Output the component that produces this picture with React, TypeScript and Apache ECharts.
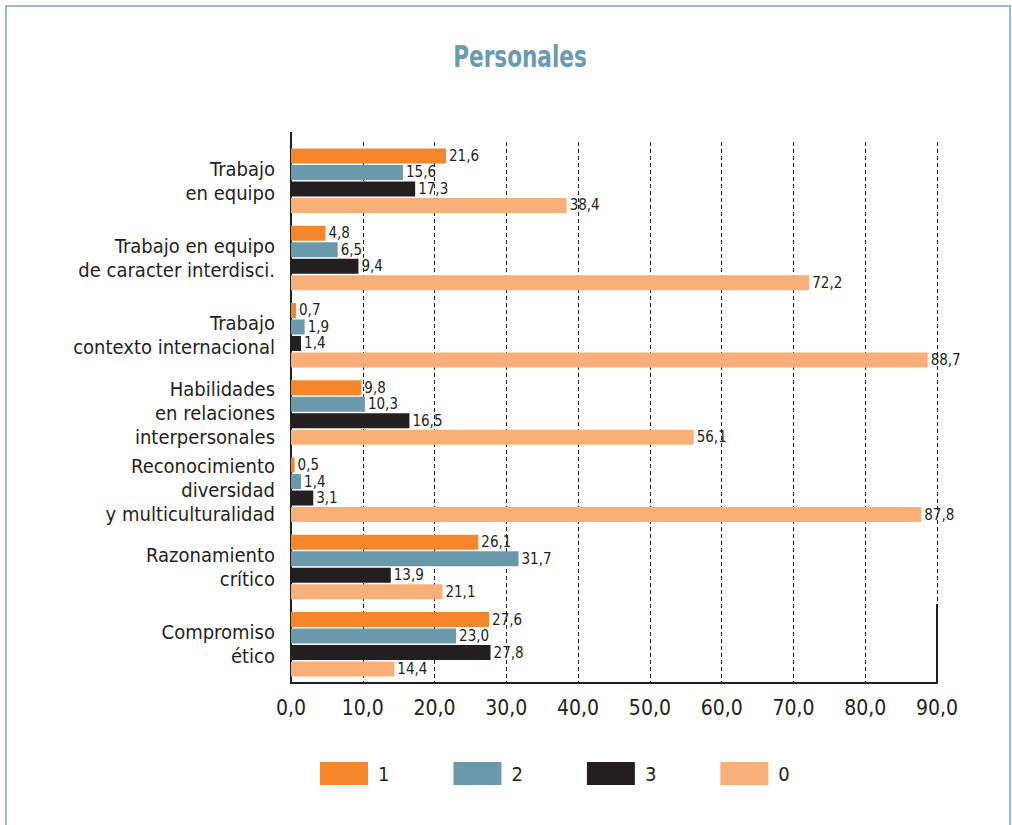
import React, { useEffect, useRef } from "react";
import * as echarts from "echarts";

const categories = [
  "Trabajo\nen equipo",
  "Trabajo en equipo\nde caracter interdisci.",
  "Trabajo\ncontexto internacional",
  "Habilidades\nen relaciones\ninterpersonales",
  "Reconocimiento\ndiversidad\ny multiculturalidad",
  "Razonamiento\ncrítico",
  "Compromiso\nético",
];
const seriesNames = ["1", "2", "3", "0"];
const values1 = [21.6, 4.8, 0.7, 9.8, 0.5, 26.1, 27.6];
const values2 = [15.6, 6.5, 1.9, 10.3, 1.4, 31.7, 23.0];
const values3 = [17.3, 9.4, 1.4, 16.5, 3.1, 13.9, 27.8];
const values0 = [38.4, 72.2, 88.7, 56.1, 87.8, 21.1, 14.4];
const colors = ["#F5862B", "#6A99AC", "#231F20", "#F9AF78"];

const FONT = "'DejaVu Sans Condensed', 'Liberation Sans Narrow', sans-serif";
const fmt = (v: number) => v.toFixed(1).replace(".", ",");

export default function App() {
  const ref = useRef<HTMLDivElement>(null);
  useEffect(() => {
    if (!ref.current) return;
    const chart = echarts.init(ref.current, null, { renderer: "svg" });
    const data = [values1, values2, values3, values0];
    chart.setOption({
      animation: false,
      backgroundColor: "#ffffff",
      textStyle: { fontFamily: FONT },
      legend: {
        data: seriesNames,
        left: 320,
        top: 762,
        padding: 0,
        itemWidth: 48,
        itemHeight: 23,
        itemGap: 64,
        icon: "rect",
        textStyle: { fontSize: 20, color: "#231F20", padding: [0, 0, 0, 5], fontFamily: FONT },
      },
      grid: { left: 291, right: 75, top: 142, bottom: 142, containLabel: false },
      xAxis: {
        type: "value",
        min: 0,
        max: 90,
        interval: 10,
        axisLine: { show: true, lineStyle: { color: "#231F20", width: 2 } },
        axisTick: { show: false },
        axisLabel: { fontSize: 21, color: "#231F20", margin: 14, formatter: (v: number) => fmt(v), fontFamily: FONT },
        splitLine: { show: true, lineStyle: { color: "#231F20", type: [4, 3], width: 1 } },
      },
      yAxis: {
        type: "category",
        data: categories,
        inverse: true,
        axisLine: { show: true, lineStyle: { color: "#231F20", width: 2 } },
        axisTick: { show: false },
        axisLabel: { fontSize: 20, color: "#231F20", margin: 16, lineHeight: 24, align: "right", fontFamily: FONT },
      },
      series: seriesNames.map((name, i) => ({
        name,
        type: "bar",
        data: data[i],
        barWidth: 15,
        barGap: "10%",
        itemStyle: { color: colors[i] },
        label: {
          show: true,
          position: "right",
          distance: 3,
          fontSize: 15,
          color: "#231F20",
          fontFamily: FONT,
          formatter: (p: any) => fmt(p.value),
        },
      })),
      graphic: [
        {
          type: "rect",
          shape: { x: 6, y: 6, width: 1004, height: 840 },
          style: { fill: "none", stroke: "#9DBBD0", lineWidth: 2 },
          silent: true,
        },
        {
          type: "text",
          x: 520,
          y: 57,
          scaleX: 0.8,
          style: {
            text: "Personales",
            fontSize: 30,
            fontWeight: "bold",
            fill: "#6A9BB0",
            fontFamily: FONT,
            align: "center",
            verticalAlign: "middle",
          },
          silent: true,
        },
        {
          type: "line",
          shape: { x1: 937, y1: 604, x2: 937, y2: 683 },
          style: { stroke: "#231F20", lineWidth: 2 },
          silent: true,
        },
        {
          type: "line",
          shape: { x1: 291, y1: 132, x2: 291, y2: 142 },
          style: { stroke: "#231F20", lineWidth: 2 },
          silent: true,
        },
      ],
    });
    return () => chart.dispose();
  }, []);
  return (
    <div
      ref={ref}
      style={{ position: "fixed", left: 0, top: 0, width: 1012, height: 825 }}
    />
  );
}
